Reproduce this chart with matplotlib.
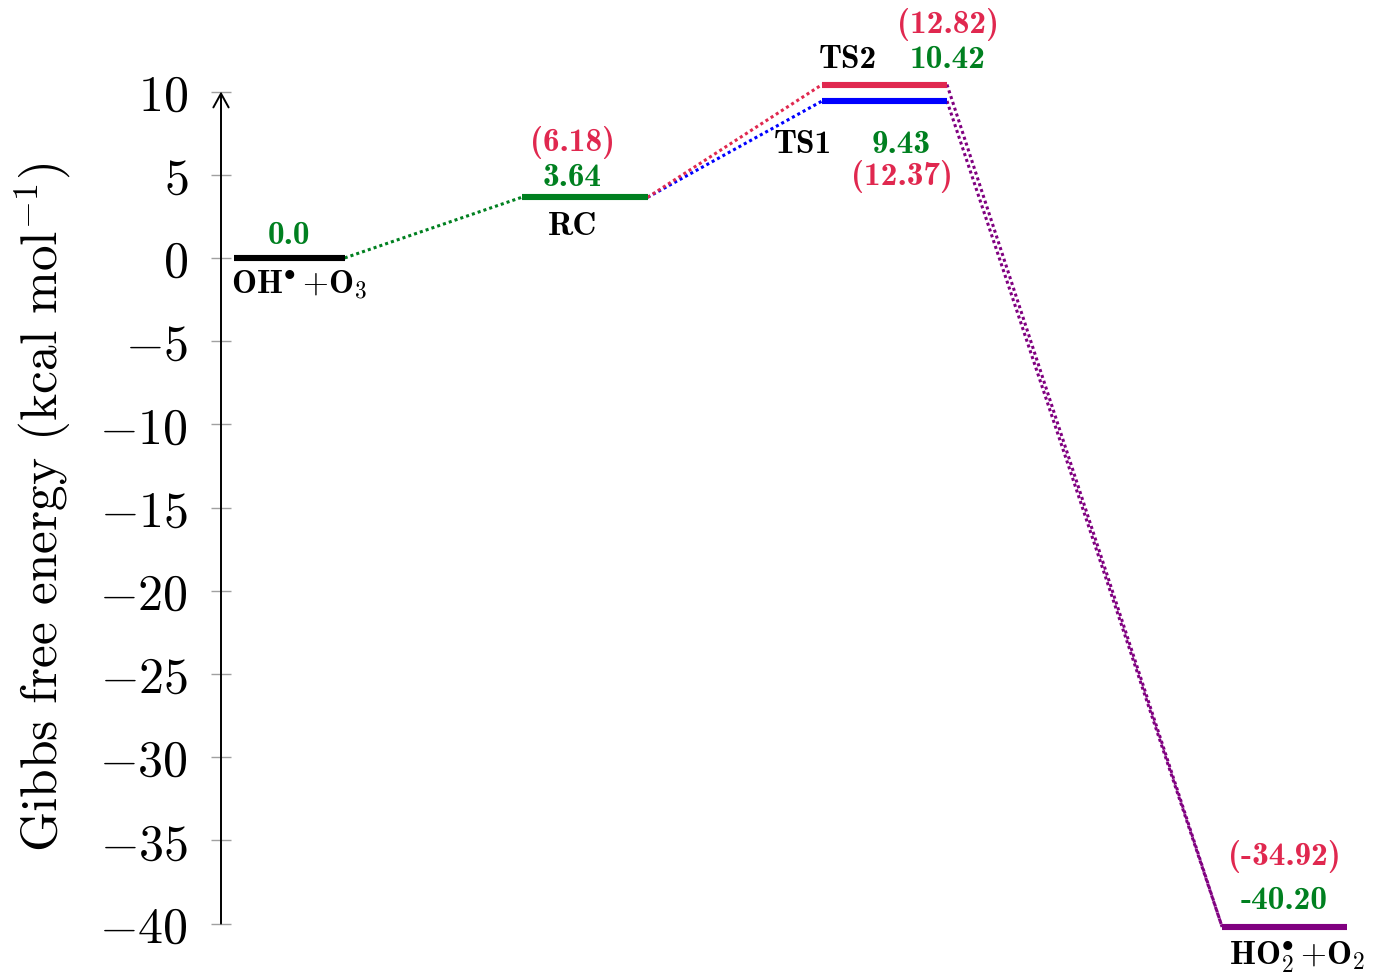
import matplotlib
matplotlib.use("Agg")
import matplotlib.pyplot as plt

plt.rcParams["font.family"] = ["cmr10", "DejaVu Serif"]
plt.rcParams["mathtext.fontset"] = "cm"
plt.rcParams["axes.unicode_minus"] = False

# Reaction path OH* + O3 -> HO2* + O2
stages = ["OH+O3", "RC", "TS1", "TS2", "HO2+O2"]
stage_labels = [r"$\mathbf{OH}^{\bullet}\,{+}\mathbf{O}_{3}$", "RC", "TS1", "TS2",
                r"$\mathbf{HO}_{2}^{\bullet}\,{+}\mathbf{O}_{2}$"]
energies = [0.0, 3.64, 9.43, 10.42, -40.20]          # main level (green values)
alt_energies = [None, 6.18, 12.37, 12.82, -34.92]    # values in parentheses
yticks = [-40, -35, -30, -25, -20, -15, -10, -5, 0, 5, 10]

# connections between levels: (from, to)
links = [(0, 1), (1, 2), (1, 3), (2, 4), (3, 4)]

# layout / style
x_left = [0.11, 2.60, 5.20, 5.20, 8.66]
x_right = [1.07, 3.69, 6.28, 6.28, 9.74]
level_colors = ["black", "#008020", "#0000FF", "#E0284F", "#800080"]
link_colors = ["#008020", "#0000FF", "#E0284F", "#800080", "#800080"]
GREEN = "#008020"
RED = "#E0284F"
LABEL_SIZE = 24

# label offsets in pixels relative to level centre: (name, value, alt)
name_off = [(10, -26), (-12, -28), (-82, -42), (-37, 26), (13, -29)]
val_off = [(0, 23), (-12, 21), (17, -42), (63, 26), (0, 27)]
alt_off = [None, (-12, 56), (17, -74), (63, 61), (0, 71)]


def fmt(v):
    return "0.0" if v == 0 else f"{v:.2f}"


fig = plt.figure(figsize=(13.77, 9.78), dpi=100)
ax = fig.add_axes([221 / 1377, 0.0, 1 - 221 / 1377, 1.0])
ax.set_xlim(0, 10)
ax.set_ylim(-43.21, 15.56)

for side in ["top", "right", "bottom", "left"]:
    ax.spines[side].set_visible(False)
ax.set_xticks([])
ax.set_yticks(yticks)
ax.set_yticklabels([rf"${t}$" for t in yticks])
ax.tick_params(axis="y", direction="inout", length=14.4, width=1.0,
               color="#a0a0a0", labelsize=36, pad=16.5)

# vertical axis with arrow head
ax.annotate("", xy=(0, yticks[-1]), xytext=(0, yticks[0]),
            xycoords="data", textcoords="data",
            arrowprops=dict(arrowstyle="->,head_length=1.0,head_width=0.55",
                            lw=1.4, color="black", shrinkA=0, shrinkB=0),
            annotation_clip=False)

ax.set_ylabel(r"Gibbs free energy (kcal mol$^{-1}$)", fontsize=37, va="center")
ax.yaxis.set_label_coords((43 - 221) / 1156, 0.481)

# dotted connectors
for (a, b), c in zip(links, link_colors):
    ax.plot([x_right[a], x_left[b]], [energies[a], energies[b]],
            color=c, lw=2.2, linestyle=(0, (1.0, 1.0)), zorder=2)

# energy levels
for i in range(len(stages)):
    ax.plot([x_left[i], x_right[i]], [energies[i], energies[i]],
            color=level_colors[i], lw=4.4, solid_capstyle="butt", zorder=3)
    xc = (x_left[i] + x_right[i]) / 2
    ax.annotate(stage_labels[i], (xc, energies[i]), xytext=name_off[i],
                textcoords="offset pixels", ha="center", va="center",
                fontsize=LABEL_SIZE, color="black", family="cmb10",
                annotation_clip=False)
    ax.annotate(fmt(energies[i]), (xc, energies[i]), xytext=val_off[i],
                textcoords="offset pixels", ha="center", va="center",
                fontsize=LABEL_SIZE, color=GREEN, family="cmb10",
                annotation_clip=False)
    if alt_energies[i] is not None:
        ax.annotate(f"({fmt(alt_energies[i])})", (xc, energies[i]),
                    xytext=alt_off[i], textcoords="offset pixels",
                    ha="center", va="center", fontsize=LABEL_SIZE, color=RED,
                    family="cmb10", annotation_clip=False)

fig.savefig("out.png", dpi=100)
